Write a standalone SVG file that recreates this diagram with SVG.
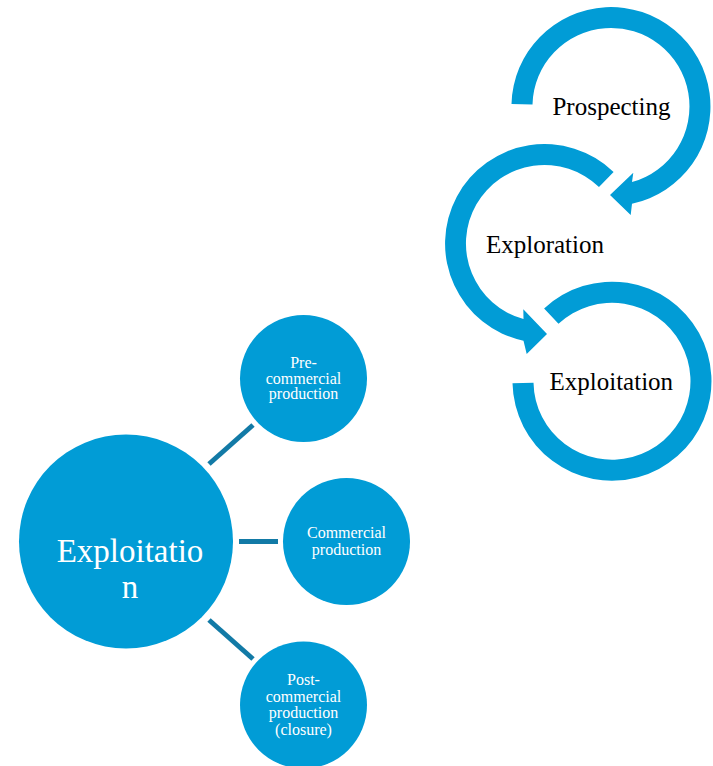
<svg xmlns="http://www.w3.org/2000/svg" width="713" height="766" viewBox="0 0 713 766">
<style>
.arc{fill:#019cd6;}
.node{fill:#019cd6;}
.lbl{font-family:"Liberation Serif","Times New Roman",serif;fill:#000;font-size:25px;text-anchor:middle;}
.wt{font-family:"Liberation Serif","Times New Roman",serif;fill:#fff;text-anchor:middle;}
.sm{font-size:16px;}
.big{font-size:33px;}
.conn{stroke:#127aa6;stroke-width:5;fill:none;}
</style>
<rect width="713" height="766" fill="#fff"/>
<g id="prospecting">
<path class="arc" d="M 511.5 103.9 A 99.5 99.5 0 1 1 632 203.8 L 630.7 215 L 610 195 L 633.3 172.7 L 632 182.1 A 78.5 78.5 0 1 0 532.5 104.4 Z"/>
<text class="lbl" x="611.5" y="115">Prospecting</text>
</g>
<g id="exploration">
<path class="arc" d="M 613.6 171.9 A 99.5 99.5 0 1 0 523.5 340.8 L 526.7 354 L 547 334 L 523.3 309.3 L 523.5 319.1 A 78.5 78.5 0 1 1 599.0 187.0 Z"/>
<text class="lbl" x="545" y="252.7">Exploration</text>
</g>
<g id="exploitation-cycle">
<path class="arc" d="M 512.5 383.3 A 99.5 99.5 0 1 0 544.1 308.4 L 558.5 323.8 A 78.5 78.5 0 1 1 533.5 382.8 Z"/>
<text class="lbl" x="611.3" y="390">Exploitation</text>
</g>
<g id="connectors">
<line class="conn" x1="209" y1="464" x2="253" y2="425"/>
<line class="conn" x1="239" y1="541.5" x2="278" y2="541.5"/>
<line class="conn" x1="209" y1="620" x2="253" y2="659"/>
</g>
<g id="exploitation">
<circle class="node" cx="126" cy="541.5" r="107"/>
<text class="wt big" x="130" y="561.7">Exploitatio</text>
<text class="wt big" x="130" y="598">n</text>
</g>
<g id="pre-commercial">
<circle class="node" cx="303.5" cy="378.5" r="63.5"/>
<text class="wt sm" x="303.5" y="368.3">Pre-</text>
<text class="wt sm" x="303.5" y="383.8">commercial</text>
<text class="wt sm" x="303.5" y="399.3">production</text>
</g>
<g id="commercial">
<circle class="node" cx="346.5" cy="541.5" r="63.5"/>
<text class="wt sm" x="346.5" y="538.3">Commercial</text>
<text class="wt sm" x="346.5" y="555">production</text>
</g>
<g id="post-commercial">
<circle class="node" cx="303.5" cy="705" r="63.5"/>
<text class="wt sm" x="303.5" y="685">Post-</text>
<text class="wt sm" x="303.5" y="701.7">commercial</text>
<text class="wt sm" x="303.5" y="718.3">production</text>
<text class="wt sm" x="303.5" y="735">(closure)</text>
</g>
</svg>
